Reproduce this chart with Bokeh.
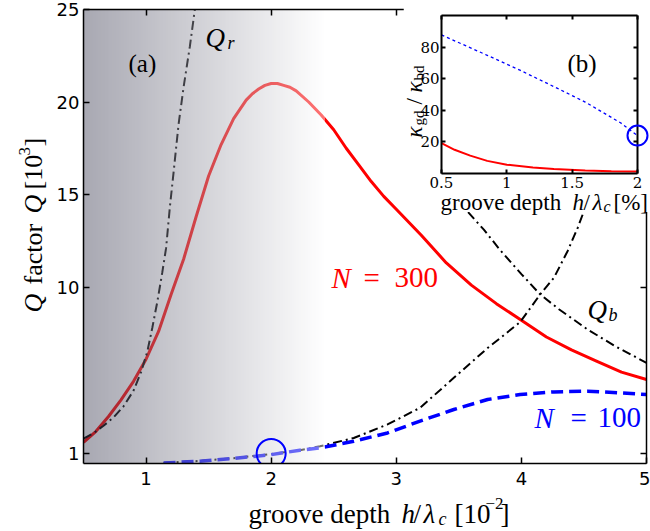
import numpy as np
from bokeh.plotting import figure
from bokeh.models import Label, LinearAxis, FixedTicker, Range1d
from bokeh.layouts import column, row
from bokeh.embed import file_html
from bokeh.resources import INLINE

# ---------------- data ----------------
# main panel (a): Q factor [10^3] vs groove depth h/lambda_c [10^-2]
h_n300 = [0.5, 0.6, 0.7, 0.8, 0.9, 1.0, 1.1, 1.2, 1.3, 1.4, 1.5, 1.6, 1.7, 1.8, 1.85, 1.9, 1.95,
          2.0, 2.05, 2.1, 2.15, 2.2, 2.3, 2.4, 2.5, 2.6, 2.7, 2.8, 2.9, 3.0, 3.2, 3.4, 3.6, 3.8,
          4.0, 4.2, 4.4, 4.6, 4.8, 5.0]
q_n300 = [1.6, 2.2, 3.0, 3.9, 4.9, 6.1, 7.6, 9.6, 11.5, 13.8, 16.0, 17.7, 19.1, 20.1, 20.45, 20.7, 20.9,
          21.0, 21.0, 20.9, 20.8, 20.6, 20.0, 19.3, 18.5, 17.5, 16.6, 15.7, 14.9, 14.2, 12.8, 11.3, 10.1, 9.1,
          8.2, 7.3, 6.6, 6.0, 5.4, 5.0]

h_qr300 = [0.5, 0.58, 0.66, 0.74, 0.82, 0.9, 0.96, 1.01, 1.05, 1.09, 1.13, 1.16, 1.19, 1.22,
           1.26, 1.3, 1.35, 1.39, 1.44]
q_qr300 = [1.8, 2.1, 2.5, 2.95, 3.55, 4.4, 5.4, 6.5, 7.8, 9.2, 10.8, 12.1, 14.3, 16.2,
           18.8, 20.8, 23.0, 25.0, 27.5]

h_n100 = [1.14, 1.43, 1.7, 2.0, 2.23, 2.39, 2.66, 2.93, 3.19, 3.46, 3.73, 3.99, 4.26, 4.53, 4.79, 5.0]
q_n100 = [0.49, 0.58, 0.73, 0.94, 1.18, 1.3, 1.66, 2.11, 2.75, 3.38, 3.92, 4.19, 4.33, 4.37, 4.28, 4.19]

h_qr100 = [1.14, 1.43, 1.7, 2.0, 2.23, 2.39, 2.66, 2.93, 3.19, 3.46, 3.73, 3.99, 4.15, 4.26,
           4.37, 4.45, 4.55, 4.65]
q_qr100 = [0.49, 0.6, 0.75, 0.97, 1.18, 1.39, 1.84, 2.57, 3.47, 5.09, 6.7, 8.1, 9.6, 10.5,
           11.95, 13.2, 15.0, 17.5]

h_qb = [3.3, 3.5, 3.7, 3.83, 4.0, 4.15, 4.3, 4.53, 4.75, 5.0]
q_qb = [16.5, 14.6, 13.1, 12.0, 10.7, 9.6, 8.8, 7.7, 6.8, 5.9]

mark_a_h = [2.0]
mark_a_q = [1.0]

x_ticks_a = [1, 2, 3, 4, 5]
y_ticks_a = [1, 10, 15, 20, 25]

# inset (b): kappa_gd / kappa_bd vs groove depth [%]
h_b100 = [0.5, 0.85, 1.1, 1.36, 1.6, 1.87, 2.0]
r_b100 = [87.7, 74.8, 65.4, 55.0, 45.2, 32.1, 24.0]
h_b300 = [0.5, 0.6, 0.72, 0.85, 1.0, 1.2, 1.36, 1.6, 1.8, 2.0]
r_b300 = [19.2, 15.0, 11.3, 8.0, 5.6, 3.8, 2.9, 1.9, 1.5, 1.3]

mark_b_h = [2.0]
mark_b_r = [24.0]

x_ticks_b = [0.5, 1, 1.5, 2]
y_ticks_b = [20, 40, 60, 80]

# ---------------- styles / layout ----------------
RED = "#ff0000"
BLUE = "#0000ff"
SERIF = "Liberation Serif"
DASHDOT = "9 4 2 4"
SHADE_END = 2.43   # where the grey shading stops (x in data units)
W, H = 650, 531


def style_axis(ax, ticks, font, size, standoff, show_labels=True, width=1.5, tick_in=6):
    ax.ticker = FixedTicker(ticks=ticks)
    ax.major_tick_in = tick_in
    ax.major_tick_out = 0
    ax.minor_tick_line_color = None
    ax.axis_line_width = width
    ax.major_tick_line_width = width
    ax.axis_line_color = "black"
    ax.major_tick_line_color = "black"
    ax.major_label_text_font = font
    if show_labels:
        ax.major_label_text_color = "black"
        ax.major_label_text_font_size = f"{size}px"
        ax.major_label_standoff = standoff
    else:
        ax.major_label_text_color = None
        ax.major_label_text_font_size = "0px"
        ax.major_label_standoff = 0


# ---------------- main figure ----------------
XA0, XA1, YA0, YA1 = 0.5, 5.0, 0.46, 25.0
p = figure(width=W, height=H, x_range=Range1d(XA0, XA1), y_range=Range1d(YA0, YA1),
           x_axis_type=None, y_axis_type=None, output_backend="svg", toolbar_location=None,
           min_border_left=83, min_border_right=4, min_border_top=9, min_border_bottom=68)
p.outline_line_color = None
p.background_fill_color = "white"
p.border_fill_color = "white"

for loc, ticks, lab, so in (("below", x_ticks_a, True, 8), ("above", x_ticks_a, False, 0),
                            ("left", y_ticks_a, True, 4), ("right", y_ticks_a, False, 0)):
    ax = LinearAxis()
    style_axis(ax, ticks, "DejaVu Sans", 18, so, lab)
    p.add_layout(ax, loc)

p.line(h_n300, q_n300, line_color=RED, line_width=3)
p.line(h_qr300, q_qr300, line_color="black", line_width=2, line_dash=DASHDOT)
p.line(h_qr100, q_qr100, line_color="black", line_width=2, line_dash=DASHDOT)
p.line(h_qb, q_qb, line_color="black", line_width=2, line_dash=DASHDOT)
p.line(h_n100, q_n100, line_color=BLUE, line_width=3.5, line_dash="12 6")

# translucent grey shading laid over the left part of the panel
NCOL = 256
t = np.linspace(0.0, 1.0, NCOL)
alpha = 0.45
vis_left = np.array([168.0, 168.0, 178.0])
vis_right = np.array([255.0, 255.0, 255.0])
vis = vis_left[None, :] + (vis_right - vis_left)[None, :] * t[:, None]
col = np.clip(255.0 - (255.0 - vis) / alpha, 0, 255)
img = np.empty((1, NCOL), dtype=np.uint32)
view = img.view(dtype=np.uint8).reshape((1, NCOL, 4))
view[0, :, 0] = col[:, 0].astype(np.uint8)
view[0, :, 1] = col[:, 1].astype(np.uint8)
view[0, :, 2] = col[:, 2].astype(np.uint8)
view[0, :, 3] = int(alpha * 255)
p.image_rgba(image=[img], x=XA0, y=YA0, dw=SHADE_END - XA0, dh=YA1 - YA0)

p.scatter(mark_a_h, mark_a_q, size=29, marker="circle", fill_color=None,
          line_color=BLUE, line_width=2)

# ---------------- inset figure ----------------
XB0, XB1, YB0, YB1 = 0.5, 2.0, 0.0, 100.0
INSET_LEFT, INSET_W, INSET_H = 403, 247, 212
B_BL, B_BR, B_BT, B_BB = 38, 13, 15, 39          # inset borders
q = figure(width=INSET_W, height=INSET_H, x_range=Range1d(XB0, XB1), y_range=Range1d(YB0, YB1),
           x_axis_type=None, y_axis_type=None, output_backend="svg", toolbar_location=None,
           min_border_left=B_BL, min_border_right=B_BR, min_border_top=B_BT, min_border_bottom=B_BB)
q.outline_line_color = None
q.background_fill_color = "white"
q.border_fill_color = "white"
for loc, ticks, lab, so in (("below", x_ticks_b, True, 3), ("above", x_ticks_b, False, 0),
                            ("left", y_ticks_b, True, 2), ("right", y_ticks_b, False, 0)):
    ax = LinearAxis()
    style_axis(ax, ticks, "DejaVu Serif", 15, so, lab, width=2, tick_in=4)
    q.add_layout(ax, loc)

q.line(h_b100, r_b100, line_color=BLUE, line_width=1.3, line_dash="3 3")
q.line(h_b300, r_b300, line_color=RED, line_width=2)

# ---------------- transparent text layer over the whole page (page-pixel coordinates) -------
o = figure(width=W, height=H, x_range=Range1d(0, W), y_range=Range1d(H, 0),
           x_axis_type=None, y_axis_type=None, output_backend="svg", toolbar_location=None,
           min_border=0)
o.outline_line_color = None
o.background_fill_alpha = 0
o.border_fill_alpha = 0

# the inset's marker, drawn through the inset's own scale so it is not clipped by its frame
b_left, b_right = INSET_LEFT + B_BL, INSET_LEFT + INSET_W - B_BR
b_top, b_bottom = B_BT, INSET_H - B_BB
sx = (b_right - b_left) / (XB1 - XB0)
sy = (b_bottom - b_top) / (YB1 - YB0)
o.extra_x_ranges = {"inset": Range1d(XB0 - b_left / sx, XB1 + (W - b_right) / sx)}
o.extra_y_ranges = {"inset": Range1d(YB0 - (H - b_bottom) / sy, YB1 + b_top / sy)}
o.scatter(mark_b_h, mark_b_r, x_range_name="inset", y_range_name="inset", size=20,
          marker="circle", fill_color=None, line_color=BLUE, line_width=2)


def add_text(text, px, py, size, italic=False, color="black", angle=0.0):
    o.add_layout(Label(x=px, y=py, text=text, text_font=SERIF, text_font_size=f"{size}px",
                       text_font_style="italic" if italic else "normal",
                       text_color=color, text_align="left", text_baseline="alphabetic",
                       angle=angle))


R = np.pi / 2
# x-axis label (a): groove depth h/λc[10^-2]
add_text("groove depth", 248, 513, 27)
add_text("h", 401, 513, 27, italic=True)
add_text("/", 413, 513, 27)
add_text("λ", 423, 513, 27, italic=True)
add_text("c", 438, 518, 18, italic=True)
add_text("[10", 454, 513, 27)
add_text("−2", 485, 503, 17)
add_text("]", 500, 513, 27)
# y-axis label (a): Q factor Q[10^3]  (rotated)
add_text("Q", 33, 312, 26, italic=True, angle=R)
add_text("factor", 33, 284, 26, angle=R)
add_text("Q", 33, 213, 26, italic=True, angle=R)
add_text("[10", 33, 189, 26, angle=R)
add_text("3", 24, 155, 17, angle=R)
add_text("]", 33, 146, 26, angle=R)
# annotations of panel (a)
add_text("(a)", 128, 63, 25)
add_text("Q", 205, 37, 27, italic=True)
add_text("r", 227, 42, 18, italic=True)
add_text("N", 331, 277, 29, italic=True, color=RED)
add_text("=", 363, 277, 29, color=RED)
add_text("300", 394, 277, 29, color=RED)
add_text("Q", 587, 309, 27, italic=True)
add_text("b", 608, 314, 18, italic=True)
add_text("N", 534, 417, 29, italic=True, color=BLUE)
add_text("=", 570, 417, 29, color=BLUE)
add_text("100", 597, 417, 29, color=BLUE)
# inset (b)
add_text("(b)", 567, 63, 25)
add_text("groove depth", 440, 202, 23)
add_text("h", 572, 202, 23, italic=True)
add_text("/", 583, 202, 23)
add_text("λ", 592, 202, 23, italic=True)
add_text("c", 603, 206, 16, italic=True)
add_text("[%]", 613, 202, 23)
add_text("κ", 414, 137, 23, italic=True, angle=R)
add_text("gd", 418, 125, 15, angle=R)
add_text("/", 414, 104, 23, angle=R)
add_text("κ", 414, 92, 23, italic=True, angle=R)
add_text("bd", 418, 80, 15, angle=R)

# ---------------- stack the three layers on top of each other ----------------
inset_box = row(q)
inset_box.margin = (-H, 0, 0, INSET_LEFT)
text_box = row(o)
text_box.margin = (-INSET_H, 0, 0, 0)
p.margin = (0, 0, 0, 0)

layout = column(p, inset_box, text_box, spacing=0)
open("out.html", "w").write(file_html(layout, INLINE))
